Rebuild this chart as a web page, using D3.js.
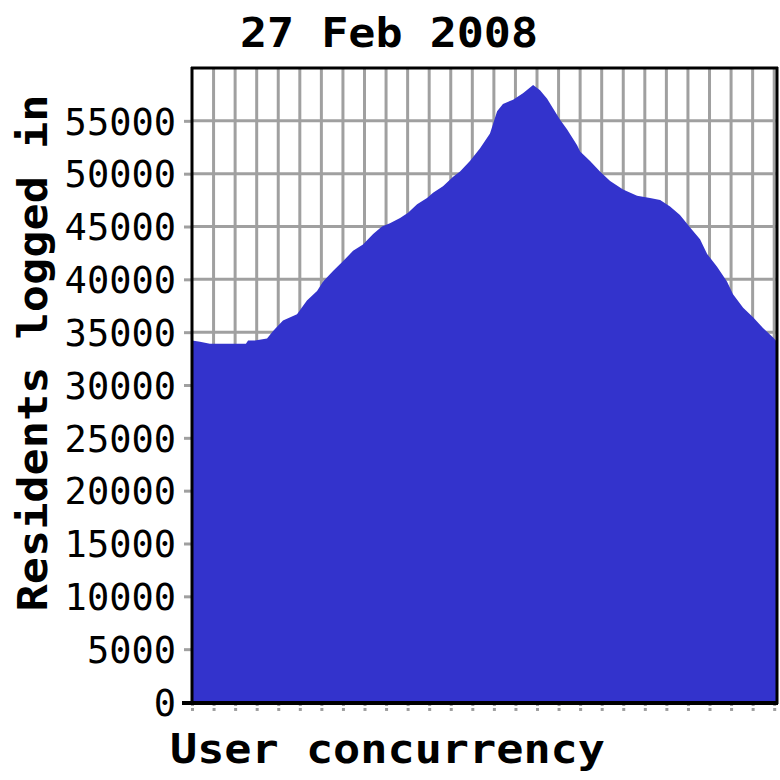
<!DOCTYPE html>
<html>
<head>
<meta charset="utf-8">
<script src="https://cdn.jsdelivr.net/npm/d3@7/dist/d3.min.js"></script>
<style>
  html, body { margin: 0; padding: 0; background: #ffffff; }
  svg { display: block; }
</style>
</head>
<body>
<svg id="chart" width="780" height="780"></svg>
<script>
// ---- Data ----
const title = "27 Feb 2008";
const yTitle = "Residents logged in";
const xTitle = "User concurrency";

// sample positions, in units of x-axis tick intervals
const samplePos = [0, 0.37, 0.83, 1.76, 2.5, 2.6, 2.92, 3.48, 3.76, 4.22, 4.87, 5.33, 5.80, 6.08, 6.54, 7.00,
  7.47, 7.93, 8.40, 8.81, 9.18, 9.65, 10.02, 10.44, 10.90, 11.18, 11.64, 12.11, 12.43, 12.89, 13.36,
  13.82, 14.15, 14.42, 14.89, 15.35, 15.82, 16.14, 16.47, 16.74, 17.07, 17.39, 17.86, 18.0, 18.46,
  18.92, 19.39, 19.99, 20.64, 21.24, 21.71, 22.17, 22.63, 23.10, 23.56, 23.89, 24.35, 24.81, 25.09,
  25.56, 26.02, 26.48, 26.95, 27.13];
// residents logged in at each sample
const residents = [34200, 34100, 33900, 33900, 33900, 34200, 34200, 34400, 35100, 36100, 36700, 38000, 38900, 39800, 40800, 41700,
  42700, 43300, 44300, 45000, 45300, 45800, 46300, 47100, 47700, 48200, 48800, 49700, 50200, 51200, 52400,
  53800, 55900, 56600, 57000, 57600, 58400, 57900, 57100, 56200, 55100, 54200, 52700, 52100, 51200,
  50200, 49300, 48500, 47900, 47700, 47500, 46900, 46100, 44900, 43800, 42400, 41200, 39800, 38600,
  37300, 36400, 35400, 34500, 34100];

const yTicks = [0, 5000, 10000, 15000, 20000, 25000, 30000, 35000, 40000, 45000, 50000, 55000];
const xTicks = d3.range(0, 28); // 28 tick marks, unlabelled

// ---- Layout ----
const svg = d3.select("#chart");
const mLeft = 192, mRight = 777, mTop = 68, mBottom = 702;
const xMax = 27.13;

const x = d3.scaleLinear().domain([0, xMax]).range([mLeft, mRight]);
const y = d3.scaleLinear().domain([0, 60000]).range([mBottom, mTop]);

const gridColor = "#a0a0a0";

// grid
const grid = svg.append("g");
grid.selectAll("line.v").data(xTicks.filter(d => d > 0)).join("line")
  .attr("class", "v")
  .attr("x1", d => x(d)).attr("x2", d => x(d))
  .attr("y1", mTop).attr("y2", mBottom)
  .attr("stroke", gridColor).attr("stroke-width", 3);
grid.selectAll("line.h").data(yTicks.filter(d => d > 0)).join("line")
  .attr("class", "h")
  .attr("x1", mLeft).attr("x2", mRight)
  .attr("y1", d => y(d)).attr("y2", d => y(d))
  .attr("stroke", gridColor).attr("stroke-width", 3);

// area
const pts = samplePos.map((p, i) => ({p, v: residents[i]}));
const area = d3.area()
  .x(d => x(d.p))
  .y0(y(0))
  .y1(d => y(d.v))
  .curve(d3.curveLinear);
svg.append("path").datum(pts)
  .attr("d", area)
  .attr("fill", "#3333cc");

// y axis ticks and labels
const yAxis = d3.axisLeft(y).tickValues(yTicks).tickSize(7).tickPadding(8).tickFormat(d3.format("d"));
const gy = svg.append("g").attr("transform", `translate(${mLeft - 1},0)`).call(yAxis);
gy.select(".domain").remove();
gy.selectAll(".tick line").attr("stroke", gridColor).attr("stroke-width", 3);
gy.selectAll(".tick text")
  .attr("font-family", "'DejaVu Sans Mono', monospace")
  .attr("font-size", 37)
  .attr("fill", "#000")
  .attr("dy", "0.36em")
  .attr("x", -15);

// x axis ticks
const xAxis = d3.axisBottom(x).tickValues(xTicks).tickSize(8).tickFormat("");
const gx = svg.append("g").attr("transform", `translate(0,${mBottom + 1})`).call(xAxis);
gx.select(".domain").remove();
gx.selectAll(".tick line").attr("stroke", gridColor).attr("stroke-width", 3)
  .attr("stroke-dasharray", "3,2");

// frame
svg.append("line").attr("x1", mLeft - 10).attr("x2", mRight + 1).attr("y1", mBottom + 1).attr("y2", mBottom + 1)
  .attr("stroke", "#000").attr("stroke-width", 4);
svg.append("line").attr("x1", mLeft).attr("x2", mLeft).attr("y1", mTop - 1).attr("y2", mBottom + 2)
  .attr("stroke", "#000").attr("stroke-width", 3);
svg.append("line").attr("x1", mLeft - 1).attr("x2", mRight + 1).attr("y1", mTop).attr("y2", mTop)
  .attr("stroke", "#000").attr("stroke-width", 3);
svg.append("line").attr("x1", mRight).attr("x2", mRight).attr("y1", mTop - 1).attr("y2", mBottom + 2)
  .attr("stroke", "#000").attr("stroke-width", 3);

// titles
svg.append("text").text(title)
  .attr("x", 389).attr("y", 47)
  .attr("text-anchor", "middle")
  .attr("font-family", "'DejaVu Sans Mono', monospace")
  .attr("font-weight", "bold")
  .attr("font-size", 41)
  .attr("textLength", 298).attr("lengthAdjust", "spacingAndGlyphs");

svg.append("text").text(xTitle)
  .attr("x", 170).attr("y", 763)
  .attr("text-anchor", "start")
  .attr("font-family", "'DejaVu Sans Mono', monospace")
  .attr("font-weight", "bold")
  .attr("font-size", 41)
  .attr("textLength", 435).attr("lengthAdjust", "spacingAndGlyphs");

svg.append("text").text(yTitle)
  .attr("transform", "translate(47,353) rotate(-90)")
  .attr("text-anchor", "middle")
  .attr("font-family", "'DejaVu Sans Mono', monospace")
  .attr("font-weight", "bold")
  .attr("font-size", 41)
  .attr("textLength", 517).attr("lengthAdjust", "spacingAndGlyphs");
</script>
</body>
</html>
